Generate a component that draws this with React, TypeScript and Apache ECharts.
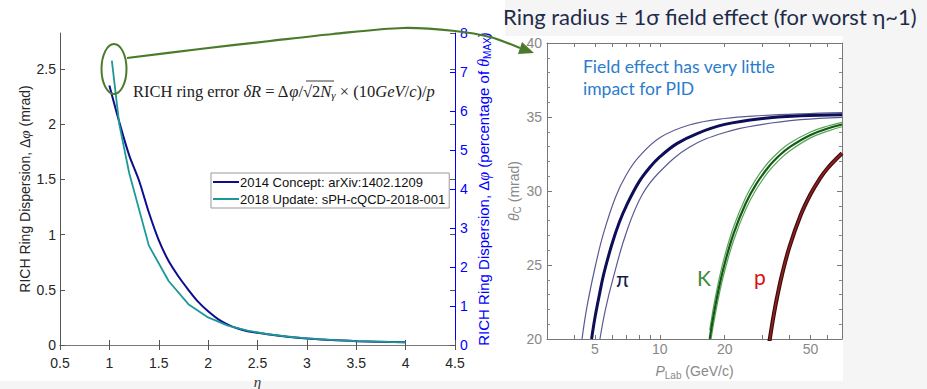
import React, { useEffect, useRef } from 'react';
import * as echarts from 'echarts';

// ---- Left chart: RICH ring dispersion vs eta ----
const eta2014 = [1.0, 1.1, 1.2, 1.3, 1.4, 1.5, 1.6, 1.7, 1.8, 1.9, 2.0, 2.1, 2.2, 2.3, 2.4, 2.5, 2.6, 2.8, 3.0, 3.2, 3.5, 4.0];
const disp2014 = [2.35, 2.02, 1.72, 1.49, 1.2, 0.95, 0.76, 0.62, 0.5, 0.39, 0.305, 0.235, 0.185, 0.15, 0.125, 0.11, 0.097, 0.075, 0.058, 0.047, 0.035, 0.024];
const eta2018 = [1.025, 1.1, 1.2, 1.4, 1.6, 1.8, 2.0, 2.2, 2.4, 2.6, 2.8, 3.0, 3.2, 3.5, 4.0];
const disp2018 = [2.575, 2.0, 1.56, 0.9, 0.58, 0.37, 0.25, 0.175, 0.13, 0.098, 0.077, 0.06, 0.048, 0.036, 0.024];
const seriesNames = ['2014 Concept: arXiv:1402.1209', '2018 Update: sPH-cQCD-2018-001'];

// ---- Right chart: Cherenkov angle vs momentum ----
const pTicks = [3, 4, 5, 6, 7, 8, 9, 10, 20, 30, 40, 50, 60, 70];
const pLabels = [5, 10, 20, 50];
const pionP = [4.83, 5.0, 5.25, 5.5, 6.0, 6.5, 7.0, 8.0, 9.0, 10, 12, 15, 20, 30, 45, 70];
const pionTheta = [20.0, 21.4, 23.0, 24.4, 26.4, 27.9, 29.0, 30.6, 31.6, 32.3, 33.2, 33.9, 34.5, 34.9, 35.08, 35.15];
const pionUpP = [4.36, 4.6, 5.04, 5.5, 6.24, 7.0, 8.0, 10, 13.7, 20, 30, 45, 70];
const pionUpTheta = [20, 22.2, 25.0, 27.2, 29.6, 31.1, 32.3, 33.6, 34.46, 34.9, 35.1, 35.22, 35.3];
const pionLoP = [5.28, 5.6, 6.1, 7.0, 8.25, 10, 13.7, 20, 30, 45, 70];
const pionLoTheta = [20, 22.0, 24.2, 27.2, 29.7, 31.3, 32.95, 33.95, 34.5, 34.82, 34.98];
const kaonP = [17.04, 17.5, 18, 19, 20, 22, 25, 28, 32, 36, 40, 50, 60, 70];
const kaonTheta = [20.0, 21.05, 22.06, 23.75, 25.09, 27.12, 29.14, 30.46, 31.64, 32.42, 32.97, 33.79, 34.22, 34.49];
const kaonUpTheta = [20.6, 21.63, 22.63, 24.29, 25.6, 27.58, 29.55, 30.82, 31.96, 32.7, 33.23, 33.99, 34.39, 34.64];
const kaonLoTheta = [19.4, 20.47, 21.49, 23.21, 24.58, 26.66, 28.73, 30.1, 31.32, 32.14, 32.71, 33.59, 34.05, 34.34];
const protonP = [32, 33, 34, 35, 37, 40, 45, 50, 55, 60, 70];
const protonTheta = [19.49, 20.76, 21.86, 22.82, 24.42, 26.25, 28.36, 29.78, 30.79, 31.54, 32.55];

const pair = (xs: number[], ys: number[]) => xs.map((x, i) => [x, ys[i]]);
const logPair = (xs: number[], ys: number[]) => xs.map((x, i) => [Math.log10(x), ys[i]]);

const SANS = 'Liberation Sans, Arial, sans-serif';
const SERIF = 'Liberation Serif, DejaVu Serif, serif';
const LEFT_MAX = 2.826;

function buildOption(): any {
  const grayTickL = { show: true, inside: true, length: 5, lineStyle: { color: '#555' } };
  const grayTickR = { show: true, inside: true, length: 4, lineStyle: { color: '#777' } };
  const logTicks = pTicks.map((v) => Math.log10(v));
  const logLabels = pLabels.map((v) => Math.log10(v));
  const rLineStyle = { color: '#777', width: 1 };

  return {
    animation: false,
    backgroundColor: '#f5f5f5',
    grid: [
      { left: 60, top: 33, width: 395, height: 312, containLabel: false, outerBoundsMode: 'none' },
      { left: 547, top: 43, width: 295, height: 296, containLabel: false, outerBoundsMode: 'none' },
    ],
    legend: {
      left: 211,
      top: 173,
      orient: 'vertical',
      icon: 'rect',
      itemGap: 3,
      itemWidth: 26,
      itemHeight: 2,
      padding: [2, 4, 2, 2],
      borderColor: '#999',
      borderWidth: 1,
      borderRadius: 0,
      backgroundColor: '#fff',
      data: seriesNames,
      textStyle: { fontFamily: SANS, fontSize: 13, color: '#111', padding: [0, 0, 0, -4], lineHeight: 14 },
    },
    xAxis: [
      {
        gridIndex: 0, type: 'value', min: 0.5, max: 4.5, interval: 0.5,
        name: 'η', nameLocation: 'middle', nameGap: 27,
        nameTextStyle: { fontFamily: SERIF, fontStyle: 'italic', fontSize: 15, color: '#333' },
        axisLine: { show: true, lineStyle: { color: '#555' } },
        axisTick: grayTickL,
        axisLabel: { fontFamily: SANS, fontSize: 14, color: '#262626', margin: 11 },
        splitLine: { show: false },
      },
      {
        gridIndex: 0, type: 'value', min: 0.5, max: 4.5, interval: 0.5, position: 'top',
        axisLine: { show: true, lineStyle: { color: '#777' } },
        axisTick: grayTickL, axisLabel: { show: false }, splitLine: { show: false },
      },
      {
        gridIndex: 1, type: 'value', min: Math.log10(3), max: Math.log10(70),
        name: '{i|P}{s|Lab}{a| (GeV/c)}', nameLocation: 'middle', nameGap: 23,
        nameTextStyle: {
          color: '#888',
          rich: {
            i: { fontFamily: SANS, fontStyle: 'italic', fontSize: 14, color: '#888' },
            s: { fontFamily: SANS, fontSize: 10, color: '#888', padding: [8, 0, 0, 0] },
            a: { fontFamily: SANS, fontSize: 14, color: '#888' },
          },
        },
        axisLine: { show: true, lineStyle: rLineStyle },
        axisTick: { ...grayTickR, customValues: logTicks },
        axisLabel: {
          customValues: logLabels, fontFamily: SANS, fontSize: 14, color: '#888', margin: 3,
          formatter: (v: number) => String(Math.round(Math.pow(10, v))),
        },
        splitLine: { show: false },
      },
      {
        gridIndex: 1, type: 'value', min: Math.log10(3), max: Math.log10(70), position: 'top',
        axisLine: { show: true, lineStyle: rLineStyle },
        axisTick: { ...grayTickR, customValues: logTicks },
        axisLabel: { show: false }, splitLine: { show: false },
      },
    ],
    yAxis: [
      {
        gridIndex: 0, type: 'value', min: 0, max: LEFT_MAX, interval: 0.5, position: 'left',
        name: '{a|RICH Ring Dispersion, Δ}{i|φ}{a| (mrad)}', nameLocation: 'middle', nameGap: 28,
        nameTextStyle: {
          rich: {
            a: { fontFamily: SANS, fontSize: 14, color: '#262626' },
            i: { fontFamily: SERIF, fontStyle: 'italic', fontSize: 15, color: '#262626' },
          },
        },
        axisLine: { show: true, lineStyle: { color: '#555' } },
        axisTick: grayTickL,
        axisLabel: { fontFamily: SANS, fontSize: 14, color: '#262626', margin: 4, showMaxLabel: false },
        splitLine: { show: false },
      },
      {
        gridIndex: 0, type: 'value', min: 0, max: 8, interval: 1, position: 'right',
        name: '{a|RICH Ring Dispersion, Δ}{i|φ}{a| (percentage of }{i|θ}{s|MAX}{a|)}',
        nameLocation: 'middle', nameGap: 19,
        nameTextStyle: {
          rich: {
            a: { fontFamily: SANS, fontSize: 15, color: '#0000ff' },
            i: { fontFamily: SERIF, fontStyle: 'italic', fontSize: 16, color: '#0000ff' },
            s: { fontFamily: SANS, fontSize: 10, color: '#0000ff', padding: [8, 0, 0, 0] },
          },
        },
        axisLine: { show: true, lineStyle: { color: '#0000ff' } },
        axisTick: { show: true, inside: true, length: 5, lineStyle: { color: '#0000ff' } },
        axisLabel: { fontFamily: SANS, fontSize: 14, color: '#0000ff', margin: 5 },
        splitLine: { show: false },
      },
      {
        gridIndex: 0, type: 'value', min: 0, max: LEFT_MAX, interval: 0.5, position: 'right',
        axisLine: { show: false }, axisTick: grayTickL, axisLabel: { show: false }, splitLine: { show: false },
      },
      {
        gridIndex: 1, type: 'value', min: 20, max: 40, interval: 5, position: 'left',
        name: '{i|θ}{s|C}{a| (mrad)}', nameLocation: 'middle', nameGap: 20,
        nameTextStyle: {
          rich: {
            i: { fontFamily: SANS, fontStyle: 'italic', fontSize: 14, color: '#888' },
            s: { fontFamily: SANS, fontSize: 10, color: '#888', padding: [8, 0, 0, 0] },
            a: { fontFamily: SANS, fontSize: 14, color: '#888' },
          },
        },
        axisLine: { show: true, lineStyle: rLineStyle },
        axisTick: { ...grayTickR, length: 5 },
        minorTick: { show: true, splitNumber: 5, length: 3, lineStyle: { color: '#888' } },
        axisLabel: { fontFamily: SANS, fontSize: 14, color: '#888', margin: 5 },
        splitLine: { show: false },
      },
      {
        gridIndex: 1, type: 'value', min: 20, max: 40, interval: 5, position: 'right',
        axisLine: { show: true, lineStyle: rLineStyle },
        axisTick: { ...grayTickR, length: 5 },
        minorTick: { show: true, splitNumber: 5, length: 3, lineStyle: { color: '#888' } },
        axisLabel: { show: false }, splitLine: { show: false },
      },
    ],
    series: [
      {
        name: seriesNames[0], type: 'line', xAxisIndex: 0, yAxisIndex: 0, smooth: 0.3,
        symbol: 'none', data: pair(eta2014, disp2014),
        lineStyle: { color: '#0d0d8e', width: 2 }, itemStyle: { color: '#0d0d8e' },
      },
      {
        name: seriesNames[1], type: 'line', xAxisIndex: 0, yAxisIndex: 0,
        symbol: 'none', data: pair(eta2018, disp2018),
        lineStyle: { color: '#1c9996', width: 1.8 }, itemStyle: { color: '#1c9996' },
      },
      // pion band
      { type: 'line', xAxisIndex: 2, yAxisIndex: 3, smooth: 0.4, symbol: 'none', data: logPair(pionUpP, pionUpTheta), lineStyle: { color: '#5a5a92', width: 1.2 } },
      { type: 'line', xAxisIndex: 2, yAxisIndex: 3, smooth: 0.4, symbol: 'none', data: logPair(pionLoP, pionLoTheta), lineStyle: { color: '#5a5a92', width: 1.2 } },
      { type: 'line', xAxisIndex: 2, yAxisIndex: 3, smooth: 0.4, symbol: 'none', data: logPair(pionP, pionTheta), lineStyle: { color: '#0e0e58', width: 3 } },
      // kaon band
      { type: 'line', xAxisIndex: 2, yAxisIndex: 3, smooth: 0.4, symbol: 'none', data: logPair(kaonP, kaonUpTheta), lineStyle: { color: '#5aa25a', width: 1.2 } },
      { type: 'line', xAxisIndex: 2, yAxisIndex: 3, smooth: 0.4, symbol: 'none', data: logPair(kaonP, kaonLoTheta), lineStyle: { color: '#5aa25a', width: 1.2 } },
      { type: 'line', xAxisIndex: 2, yAxisIndex: 3, smooth: 0.4, symbol: 'none', data: logPair(kaonP, kaonTheta), lineStyle: { color: '#125c12', width: 2.2 } },
      // proton band
      { type: 'line', xAxisIndex: 2, yAxisIndex: 3, smooth: 0.4, symbol: 'none', data: logPair(protonP, protonTheta), lineStyle: { color: '#3a0a0a', width: 4 } },
      { type: 'line', xAxisIndex: 2, yAxisIndex: 3, smooth: 0.4, symbol: 'none', data: logPair(protonP, protonTheta), lineStyle: { color: '#8c1f1f', width: 1.8 } },
    ],
    graphic: {
      elements: [
        { type: 'rect', z: -10, shape: { x: 0, y: 0, width: 505, height: 381 }, style: { fill: '#ffffff' } },
        { type: 'rect', z: -10, shape: { x: 505, y: 36, width: 338, height: 345 }, style: { fill: '#ffffff' } },
        {
          type: 'text', z: 50, x: 503, y: 16,
          style: {
            text: 'Ring radius ± 1σ field effect (for worst η~1)', fontFamily: 'Lato, sans-serif',
            fontSize: 22, fill: '#1f2b4a', verticalAlign: 'middle',
          },
        },
        {
          type: 'text', z: 50, x: 583, y: 66,
          style: { text: 'Field effect has very little', fontFamily: 'Lato, sans-serif', fontSize: 17.5, fill: '#2b7ccc', verticalAlign: 'middle' },
        },
        {
          type: 'text', z: 50, x: 583, y: 88,
          style: { text: 'impact for PID', fontFamily: 'Lato, sans-serif', fontSize: 17.5, fill: '#2b7ccc', verticalAlign: 'middle' },
        },
        { type: 'text', z: 50, x: 616, y: 278, style: { text: 'π', fontFamily: 'Lato, sans-serif', fontSize: 21, fill: '#101c48', verticalAlign: 'middle' } },
        { type: 'text', z: 50, x: 697, y: 277, style: { text: 'K', fontFamily: 'Lato, sans-serif', fontSize: 21, fill: '#3f8a3a', verticalAlign: 'middle' } },
        { type: 'text', z: 50, x: 754, y: 276, style: { text: 'p', fontFamily: 'Lato, sans-serif', fontSize: 21, fill: '#d81010', verticalAlign: 'middle' } },
        {
          type: 'text', z: 50, x: 133, y: 91,
          style: {
            text: '{a|RICH ring error }{i|δR}{a| = Δ}{i|φ}{a|/√}{a|2}{i|N}{s|γ}{a| × (10}{i|GeV}{a|/}{i|c}{a|)/}{i|p}',
            verticalAlign: 'middle',
            rich: {
              a: { fontFamily: SERIF, fontSize: 16.5, fill: '#222' },
              i: { fontFamily: SERIF, fontStyle: 'italic', fontSize: 16.5, fill: '#222' },
              s: { fontFamily: SERIF, fontStyle: 'italic', fontSize: 11, fill: '#222', padding: [7, 0, 0, 0] },
            },
          },
        },
        { type: 'line', z: 50, shape: { x1: 306, y1: 81, x2: 334, y2: 81 }, style: { stroke: '#222', lineWidth: 0.9 } },
        { type: 'ellipse', z: 60, shape: { cx: 114, cy: 69, rx: 12.5, ry: 25 }, style: { fill: 'none', stroke: '#4a7a2a', lineWidth: 2 } },
        {
          type: 'polyline', z: 60,
          shape: { points: [[127, 58], [200, 49], [270, 41], [333, 34], [403, 28], [455, 31], [490, 37], [520, 48]], smooth: 0.3 },
          style: { stroke: '#4a7a2a', lineWidth: 2.2, fill: 'none' },
        },
        { type: 'polygon', z: 60, shape: { points: [[534, 53], [522, 42], [518, 54]] }, style: { fill: '#4a7a2a' } },
      ],
    },
  };
}

export default function App() {
  const ref = useRef<HTMLDivElement>(null);
  useEffect(() => {
    if (!ref.current) return;
    const chart = echarts.init(ref.current, null, { renderer: 'svg' });
    chart.setOption(buildOption());
    return () => chart.dispose();
  }, []);
  return <div ref={ref} style={{ position: 'fixed', left: 0, top: 0, width: 927, height: 389 }} />;
}
